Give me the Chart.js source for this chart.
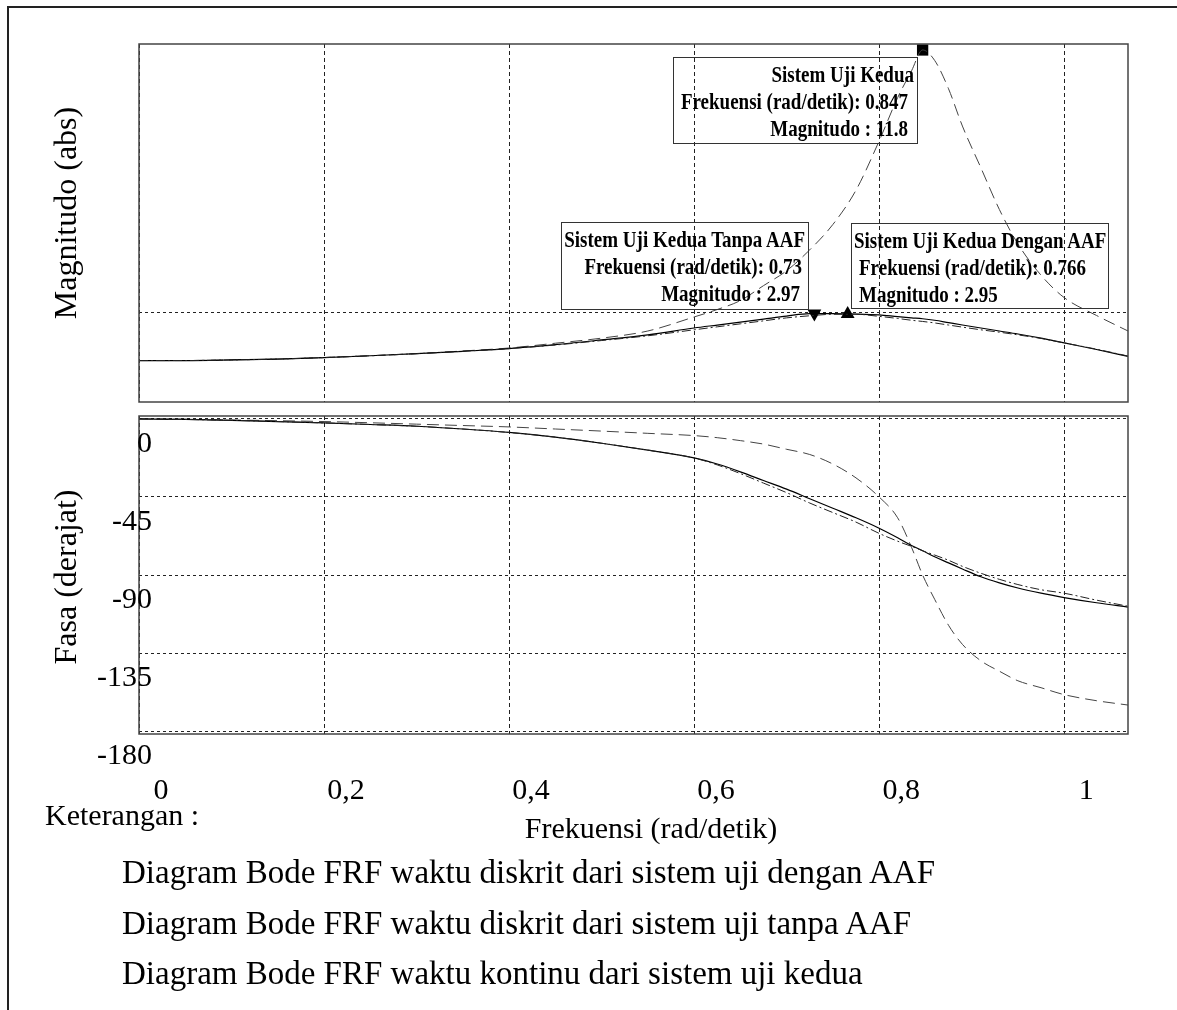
<!DOCTYPE html>
<html>
<head>
<meta charset="utf-8">
<script src="https://cdn.jsdelivr.net/npm/chart.js@4.4.1/dist/chart.umd.min.js"></script>
<style>
  body { margin: 0; background: #fff; }
  #page { position: relative; width: 1177px; height: 1010px; overflow: hidden; font-family: "Liberation Serif", "Times New Roman", serif; color: #000; }
  canvas { position: absolute; left: 0; top: 0; }
  .txt { position: absolute; white-space: nowrap; line-height: 1; }
  .box { position: absolute; border: 1px solid #333; box-sizing: border-box; padding-top: 2px; }
  .box div { height: 27px; line-height: 27px; font-weight: bold; font-size: 19px; white-space: nowrap; }
  .box span { display: inline-block; transform: scaleY(1.25); }
</style>
</head>
<body>
<div id="page">
  <div style="position:absolute;left:7px;top:6px;width:1177px;height:1010px;border-top:2px solid #222;border-left:2px solid #222;"></div>
  <canvas id="mag" width="1177" height="1010"></canvas>
  <canvas id="phase" width="1177" height="1010"></canvas>
</div>
<script>
// frekuensi (rad/detik)
const freq = [0, 0.05, 0.1, 0.15, 0.2, 0.25, 0.3, 0.35, 0.4, 0.45, 0.5, 0.55, 0.6, 0.625, 0.65, 0.675, 0.7, 0.725, 0.75, 0.775, 0.8, 0.82, 0.835, 0.847, 0.86, 0.875, 0.89, 0.91, 0.93, 0.95, 0.975, 1.0, 1.035, 1.069];

// magnitudo (abs)
const magDengan = [1.39, 1.39, 1.41, 1.44, 1.49, 1.55, 1.62, 1.70, 1.79, 1.91, 2.06, 2.22, 2.42, 2.52, 2.62, 2.72, 2.82, 2.89, 2.94, 2.94, 2.87, 2.80, 2.74, 2.70, 2.65, 2.58, 2.51, 2.42, 2.34, 2.25, 2.13, 1.98, 1.77, 1.54];
const magTanpa = [1.39, 1.39, 1.41, 1.44, 1.49, 1.55, 1.62, 1.70, 1.79, 1.92, 2.08, 2.25, 2.48, 2.58, 2.68, 2.78, 2.88, 2.96, 2.96, 2.95, 2.92, 2.86, 2.82, 2.79, 2.74, 2.66, 2.58, 2.48, 2.38, 2.28, 2.14, 1.98, 1.76, 1.53];
const magKontinu = [1.39, 1.39, 1.41, 1.44, 1.49, 1.55, 1.62, 1.71, 1.81, 1.97, 2.14, 2.38, 2.85, 3.1, 3.4, 3.9, 4.4, 5.1, 5.95, 7.1, 8.75, 10.2, 11.1, 11.8, 11.45, 10.5, 9.25, 7.85, 6.45, 5.3, 4.25, 3.5, 2.9, 2.38];

// fasa (derajat)
const phaseDengan = [0, -0.3, -0.8, -1.5, -2.3, -3.2, -4.2, -5.8, -7.8, -10.5, -14, -18, -22.5, -26.5, -31.5, -37, -42.5, -48.5, -54, -59.5, -66, -70.5, -73.5, -76, -78.5, -81.5, -85, -89, -92.5, -95.5, -98.5, -100.5, -104.5, -108];
const phaseTanpa = [0, -0.3, -0.8, -1.5, -2.3, -3.2, -4.2, -5.8, -7.8, -10.5, -14, -18, -22.5, -26, -30.5, -35.5, -40.5, -46, -51.5, -57, -63, -68.5, -73, -76, -79.5, -83, -86.5, -91, -94.5, -97.5, -100.5, -103, -106, -108.5];
const phaseKontinu = [0, -0.2, -0.6, -1, -1.5, -2.2, -3, -3.8, -4.6, -5.8, -7, -8.3, -9.6, -10.8, -12.5, -14.5, -17.5, -20.5, -26, -34, -45, -57, -74, -90, -104, -119, -130, -139.5, -145.5, -151, -155, -159, -162.5, -165];

// titik puncak
const peakNames = ["Sistem Uji Kedua", "Sistem Uji Kedua Tanpa AAF", "Sistem Uji Kedua Dengan AAF"];
const peakFreq = [0.847, 0.73, 0.766];
const peakMag = [11.8, 2.97, 2.95];

const freqTicks = [0, 0.2, 0.4, 0.6, 0.8, 1];
const freqTickLabels = ["0", "0,2", "0,4", "0,6", "0,8", "1"];
const magGrid = [3];
const phaseTicks = [0, -45, -90, -135, -180];
const phaseTickLabels = ["0", "-45", "-90", "-135", "-180"];

const legendLines = [
  "Diagram Bode FRF waktu diskrit dari sistem uji dengan AAF",
  "Diagram Bode FRF waktu diskrit dari sistem uji tanpa AAF",
  "Diagram Bode FRF waktu kontinu dari sistem uji kedua"
];

const pts = (ys) => freq.map((f, i) => ({ x: f, y: ys[i] }));

const lineStyle = {
  dengan: { borderColor: "#222", borderWidth: 1, borderDash: [9, 3, 2, 3] },
  tanpa: { borderColor: "#000", borderWidth: 1.2, borderDash: [] },
  kontinu: { borderColor: "#444", borderWidth: 1, borderDash: [12, 6] }
};

function makeLine(label, ys, st) {
  return Object.assign({
    type: "line",
    label: label,
    data: pts(ys),
    pointRadius: 0,
    fill: false,
    cubicInterpolationMode: "monotone"
  }, st);
}

const framePlugin = {
  id: "frame",
  afterDraw(chart) {
    const a = chart.chartArea, ctx = chart.ctx;
    ctx.save();
    ctx.strokeStyle = "#444";
    ctx.lineWidth = 1.5;
    ctx.strokeRect(a.left, a.top, a.right - a.left, a.bottom - a.top);
    ctx.restore();
  }
};

const phaseLabels = {
  id: "phaseLabels",
  afterDraw(chart) {
    const ctx = chart.ctx, sx = chart.scales.x, sy = chart.scales.y;
    ctx.save();
    ctx.fillStyle = "#000";
    ctx.font = '30px "Liberation Serif"';
    ctx.textBaseline = "middle";
    ctx.textAlign = "center";
    freqTicks.forEach((v, i) => ctx.fillText(freqTickLabels[i], sx.getPixelForValue(v) + 22, chart.chartArea.bottom + 57));
    ctx.textAlign = "right";
    phaseTicks.forEach((v, i) => ctx.fillText(phaseTickLabels[i], 152, sy.getPixelForValue(v) + 25));
    ctx.restore();
  }
};

function xScale() {
  return {
    type: "linear",
    min: 0,
    max: 1.069,
    afterBuildTicks: s => { s.ticks = freqTicks.map(v => ({ value: v })); },
    afterFit: s => { s.height = 0; },
    ticks: { display: false },
    grid: { color: "#222", lineWidth: 1, drawTicks: false },
    border: { display: false, dash: [4, 3] }
  };
}

function yScale(min, max, grid) {
  return {
    type: "linear",
    min: min,
    max: max,
    afterBuildTicks: s => { s.ticks = grid.map(v => ({ value: v })); },
    afterFit: s => { s.width = 0; },
    ticks: { display: false },
    grid: { color: "#222", lineWidth: 1, drawTicks: false },
    border: { display: false, dash: [3, 3] }
  };
}

const common = {
  responsive: false,
  animation: false,
  devicePixelRatio: 1,
  plugins: { legend: { display: false }, tooltip: { enabled: false } }
};

new Chart(document.getElementById("mag").getContext("2d"), {
  type: "line",
  data: {
    datasets: [
      makeLine(legendLines[0], magDengan, lineStyle.dengan),
      makeLine(legendLines[1], magTanpa, lineStyle.tanpa),
      makeLine(legendLines[2], magKontinu, lineStyle.kontinu),
      {
        type: "scatter",
        label: "puncak",
        data: peakFreq.map((f, i) => ({ x: f, y: peakMag[i] })),
        pointStyle: ["rect", "triangle", "triangle"],
        rotation: [0, 180, 0],
        pointRadius: [8, 8, 8],
        backgroundColor: "#000",
        borderColor: "#000",
        borderWidth: 0
      }
    ]
  },
  options: Object.assign({}, common, {
    layout: { padding: { left: 139, top: 44, right: 49, bottom: 608 } },
    scales: { x: xScale(), y: yScale(0, 12, magGrid) }
  }),
  plugins: [framePlugin]
});

new Chart(document.getElementById("phase").getContext("2d"), {
  type: "line",
  data: {
    datasets: [
      makeLine(legendLines[0], phaseDengan, lineStyle.dengan),
      makeLine(legendLines[1], phaseTanpa, lineStyle.tanpa),
      makeLine(legendLines[2], phaseKontinu, lineStyle.kontinu)
    ]
  },
  options: Object.assign({}, common, {
    layout: { padding: { left: 139, top: 416, right: 49, bottom: 276 } },
    scales: { x: xScale(), y: yScale(-181.7, 1.7, phaseTicks) }
  }),
  plugins: [framePlugin, phaseLabels]
});

// teks (judul sumbu, keterangan, kotak data)
const page = document.getElementById("page");
function addText(str, css) {
  const d = document.createElement("div");
  d.className = "txt";
  d.textContent = str;
  d.style.cssText += css;
  page.appendChild(d);
  return d;
}
addText("Magnitudo (abs)", "left:65px;top:213px;font-size:32px;transform:translate(-50%,-50%) rotate(-90deg);");
addText("Fasa (derajat)", "left:65px;top:577px;font-size:32px;transform:translate(-50%,-50%) rotate(-90deg);");
addText("Frekuensi (rad/detik)", "left:651px;top:828px;font-size:30px;transform:translate(-50%,-50%);");
addText("Keterangan :", "left:45px;top:815px;font-size:30px;transform:translateY(-50%);");
[872, 923, 973].forEach((y, i) => addText(legendLines[i], "left:122px;top:" + y + "px;font-size:33px;transform:translateY(-50%);"));

const boxes = [
  { left: 673, top: 57, w: 245, h: 87, align: "right", pads: [3, 9, 9] },
  { left: 561, top: 222, w: 248, h: 88, align: "right", pads: [3, 6, 8] },
  { left: 851, top: 223, w: 258, h: 86, align: "left", pads: [2, 7, 7] }
];
boxes.forEach((b, i) => {
  const el = document.createElement("div");
  el.className = "box";
  el.style.cssText = "left:" + b.left + "px;top:" + b.top + "px;width:" + b.w + "px;height:" + b.h + "px;text-align:" + b.align + ";";
  const lines = [peakNames[i], "Frekuensi (rad/detik): " + peakFreq[i], "Magnitudo : " + peakMag[i]];
  lines.forEach((t, k) => {
    const row = document.createElement("div");
    row.style["padding" + (b.align === "right" ? "Right" : "Left")] = b.pads[k] + "px";
    const sp = document.createElement("span");
    sp.textContent = t;
    row.appendChild(sp);
    el.appendChild(row);
  });
  page.appendChild(el);
});
</script>
</body>
</html>
